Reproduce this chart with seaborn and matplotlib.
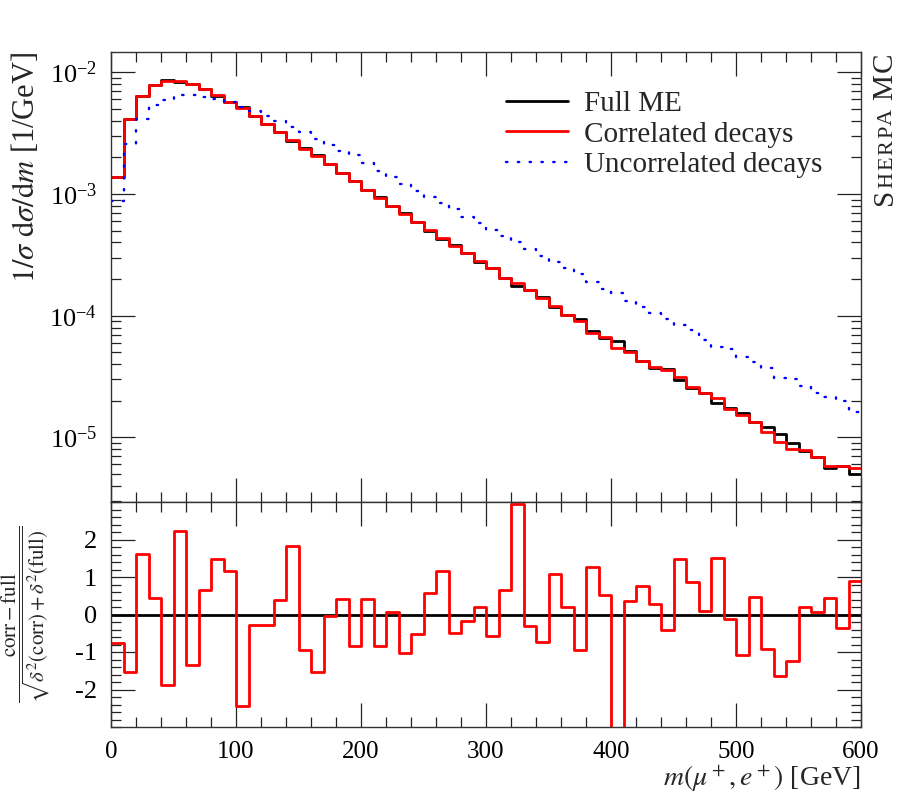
import numpy as np
import matplotlib
matplotlib.use("Agg")
import matplotlib.pyplot as plt
import seaborn as sns
from matplotlib.ticker import MultipleLocator, LogLocator, NullFormatter

# Binning: 60 bins of 10 GeV from 0 to 600 GeV
bin_centres = np.arange(5, 600, 10)

# 1/sigma dsigma/dm [1/GeV]
full_me = [
    1.39e-3, 4.15e-3, 6.35e-3, 7.85e-3, 8.58e-3, 8.38e-3, 8.10e-3, 7.28e-3, 6.45e-3, 5.66e-3,
    5.16e-3, 4.36e-3, 3.79e-3, 3.22e-3, 2.72e-3, 2.38e-3, 2.09e-3, 1.75e-3, 1.48e-3, 1.28e-3,
    1.07e-3, 9.40e-4, 7.96e-4, 6.93e-4, 5.93e-4, 5.00e-4, 4.25e-4, 3.78e-4, 3.27e-4, 2.79e-4,
    2.49e-4, 2.03e-4, 1.76e-4, 1.63e-4, 1.42e-4, 1.18e-4, 1.01e-4, 9.35e-5, 7.50e-5, 6.60e-5,
    6.19e-5, 5.10e-5, 4.25e-5, 3.72e-5, 3.64e-5, 2.96e-5, 2.53e-5, 2.33e-5, 1.91e-5, 1.75e-5,
    1.60e-5, 1.34e-5, 1.22e-5, 1.06e-5, 9.05e-6, 7.80e-6, 6.90e-6, 5.60e-6, 5.85e-6, 5.00e-6,
]
correlated = [
    1.39e-3, 4.11e-3, 6.38e-3, 7.87e-3, 8.53e-3, 8.43e-3, 8.07e-3, 7.30e-3, 6.51e-3, 5.70e-3,
    5.06e-3, 4.35e-3, 3.78e-3, 3.23e-3, 2.76e-3, 2.36e-3, 2.06e-3, 1.75e-3, 1.49e-3, 1.27e-3,
    1.08e-3, 9.33e-4, 7.97e-4, 6.85e-4, 5.89e-4, 5.03e-4, 4.32e-4, 3.76e-4, 3.26e-4, 2.80e-4,
    2.47e-4, 2.05e-4, 1.87e-4, 1.62e-4, 1.40e-4, 1.20e-4, 1.02e-4, 9.10e-5, 7.25e-5, 6.64e-5,
    5.43e-5, 5.06e-5, 4.27e-5, 3.77e-5, 3.60e-5, 3.15e-5, 2.58e-5, 2.33e-5, 2.13e-5, 1.73e-5,
    1.53e-5, 1.33e-5, 1.11e-5, 9.12e-6, 7.98e-6, 7.90e-6, 6.93e-6, 5.82e-6, 5.80e-6, 5.57e-6,
]
uncorrelated = [
    8.80e-4, 2.60e-3, 4.10e-3, 5.36e-3, 5.92e-3, 6.50e-3, 6.50e-3, 6.30e-3, 6.00e-3, 5.70e-3,
    5.22e-3, 4.79e-3, 4.41e-3, 3.95e-3, 3.53e-3, 3.25e-3, 2.83e-3, 2.51e-3, 2.25e-3, 2.08e-3,
    1.80e-3, 1.55e-3, 1.37e-3, 1.22e-3, 1.06e-3, 9.39e-4, 8.49e-4, 7.48e-4, 6.44e-4, 5.74e-4,
    5.03e-4, 4.52e-4, 4.01e-4, 3.51e-4, 3.10e-4, 2.78e-4, 2.46e-4, 2.19e-4, 1.90e-4, 1.65e-4,
    1.53e-4, 1.32e-4, 1.17e-4, 1.05e-4, 9.34e-5, 8.44e-5, 7.63e-5, 6.36e-5, 5.56e-5, 5.29e-5,
    4.60e-5, 4.19e-5, 3.70e-5, 3.10e-5, 3.02e-5, 2.63e-5, 2.30e-5, 2.16e-5, 1.98e-5, 1.63e-5,
]

# (corr - full) / sqrt(d^2(corr) + d^2(full))
pull = [
    -0.76, -1.54, 1.62, 0.45, -1.87, 2.24, -1.34, 0.65, 1.49, 1.16,
    -2.45, -0.28, -0.27, 0.38, 1.83, -0.94, -1.54, -0.05, 0.41, -0.85,
    0.41, -0.85, 0.06, -1.03, -0.53, 0.57, 1.16, -0.49, -0.17, 0.20,
    -0.57, 0.66, 2.96, -0.30, -0.74, 1.08, 0.20, -0.94, 1.26, 0.51,
    -3.60, 0.36, 0.76, 0.28, -0.42, 1.48, 0.86, 0.09, 1.51, -0.12,
    -1.07, 0.48, -0.92, -1.65, -1.25, 0.20, 0.07, 0.43, -0.35, 0.89,
]

sns.set_style("ticks")
plt.rcParams["font.family"] = ["Liberation Serif", "DejaVu Serif"]
plt.rcParams["mathtext.fontset"] = "stix"
plt.rcParams["axes.unicode_minus"] = False

fig = plt.figure(figsize=(9, 8.02), dpi=100)
ax_top = fig.add_axes([111 / 900, 1 - 502 / 802, 750 / 900, 450 / 802])
ax_bot = fig.add_axes([111 / 900, 1 - 727 / 802, 750 / 900, 225 / 802], sharex=ax_top)

hist_kw = dict(binwidth=10, binrange=(0, 600), element="step", fill=False)

# Upper panel: step histograms
sns.histplot(x=bin_centres, weights=full_me, color="black", linewidth=2.0,
             ax=ax_top, label="Full ME", **hist_kw)
sns.histplot(x=bin_centres, weights=correlated, color="#ff0000", linewidth=2.0,
             ax=ax_top, label="Correlated decays", **hist_kw)
sns.histplot(x=bin_centres, weights=uncorrelated, color="#0000ff", linewidth=1.7,
             linestyle=(0, (0.6, 4.4)), dash_capstyle="round",
             ax=ax_top, label="Uncorrelated decays", **hist_kw)

ax_top.set_yscale("log")
ax_top.set_xlim(0, 600)
ax_top.set_ylim(2.95e-6, 1.47e-2)
ax_top.set_ylabel(r"$1/\sigma\ \mathrm{d}\sigma/\mathrm{d}m$ [1/GeV]", fontsize=22, loc="top")
ax_top.yaxis.set_label_coords(-0.093, 1.0)
ax_top.set_xlabel("")
ax_top.yaxis.set_major_locator(LogLocator(base=10, numticks=10))
ax_top.yaxis.set_minor_locator(LogLocator(base=10, subs=np.arange(2, 10), numticks=20))
ax_top.yaxis.set_minor_formatter(NullFormatter())

ax_top.legend(loc="upper left", bbox_to_anchor=(0.50, 0.96), frameon=False, fontsize=21,
              handlelength=2.1, handletextpad=0.55, labelspacing=0.15, borderpad=0.2)

# Lower panel: pull
sns.histplot(x=bin_centres, weights=pull, color="#ff0000", linewidth=2.0, ax=ax_bot, **hist_kw)
ax_bot.axhline(0, color="black", linewidth=2.0, zorder=1)
ax_bot.set_ylim(-3, 3)
ax_bot.set_yticks([-2, -1, 0, 1, 2])
ax_bot.yaxis.set_minor_locator(MultipleLocator(0.2))
ax_bot.set_ylabel(r"$\dfrac{\mathrm{corr}-\mathrm{full}}{\sqrt{\delta^2(\mathrm{corr})+\delta^2(\mathrm{full})}}$",
                  fontsize=15)
ax_bot.yaxis.set_label_coords(-0.078, 0.5)
ax_bot.set_xlabel(r"$m(\mu^+, e^+)$ [GeV]", fontsize=20, loc="right")
ax_bot.xaxis.set_label_coords(1.0, -0.16)
ax_bot.xaxis.label.set_verticalalignment("top")

for ax in (ax_top, ax_bot):
    ax.xaxis.set_major_locator(MultipleLocator(100))
    ax.xaxis.set_minor_locator(MultipleLocator(20))
    ax.tick_params(which="both", direction="in", top=True, right=True, width=0.9,
                   colors="#222222", labelcolor="black", pad=10)
    ax.tick_params(axis="x", labelsize=18)
    ax.tick_params(axis="y", labelsize=19)
    ax.tick_params(which="major", length=17)
    ax.tick_params(which="minor", length=7)
    for sp in ax.spines.values():
        sp.set_linewidth(1.0)
        sp.set_color("#333333")
    ax.grid(False)
ax_top.tick_params(labelbottom=False)

# "Sherpa MC" in small caps, running upward along the right edge
pieces = [("C", 21), ("M", 21), (" ", 16), ("A", 16), ("P", 16), ("R", 16),
          ("E", 16), ("H", 16), ("S", 21)]
fig.canvas.draw()
renderer = fig.canvas.get_renderer()
y_px = fig.bbox.height * (1 - 53 / 802)
x_px = fig.bbox.width * (892 / 900)
for txt, size in pieces:
    t = fig.text(x_px / fig.bbox.width, y_px / fig.bbox.height, txt, fontsize=size,
                 rotation=90, rotation_mode="anchor", ha="right", va="baseline")
    ext = t.get_window_extent(renderer)
    y_px -= ext.height + 1.5

fig.savefig("out.png", dpi=100)
